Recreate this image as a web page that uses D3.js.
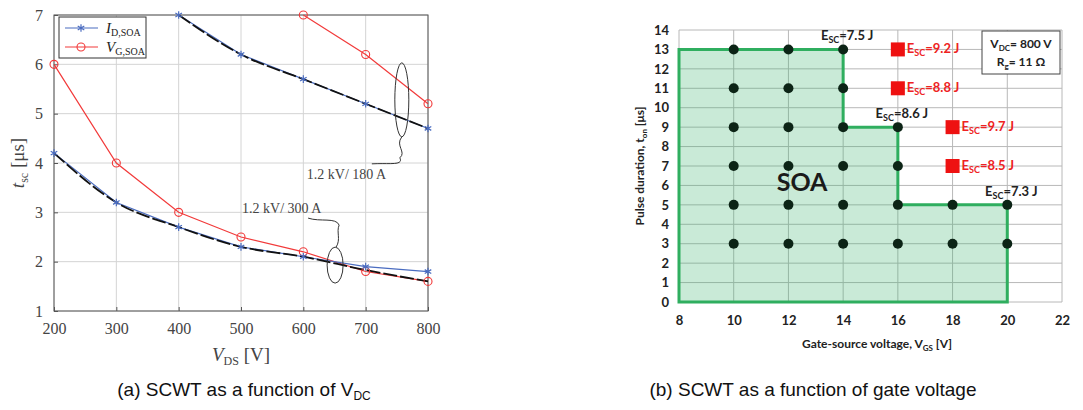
<!DOCTYPE html>
<html>
<head>
<meta charset="utf-8">
<script src="https://cdn.jsdelivr.net/npm/d3@7"></script>
<style>
    body { margin: 0; background: #fff; }
    svg { display: block; }
</style>
</head>
<body>
<svg id="chart" width="1083" height="410"></svg>
<script>
// ---- data: (a) SCWT vs V_DC ----
const vds = [200, 300, 400, 500, 600, 700, 800];
const id300 = [4.2, 3.2, 2.7, 2.3, 2.1, 1.9, 1.8];
const vg300 = [6.0, 4.0, 3.0, 2.5, 2.2, 1.8, 1.6];
const fit300 = [4.2, 3.2, 2.7, 2.3, 2.1, 1.83, 1.6];
const vds180 = [400, 500, 600, 700, 800];
const id180 = [7.0, 6.2, 5.7, 5.2, 4.7];
const vdsVg180 = [600, 700, 800];
const vg180 = [7.0, 6.2, 5.2];
const xTicksA = [200, 300, 400, 500, 600, 700, 800];
const yTicksA = [1, 2, 3, 4, 5, 6, 7];

// ---- data: (b) SCWT vs gate voltage ----
const soaX = [8, 8, 14, 14, 16, 16, 20, 20];
const soaY = [0, 13, 13, 9, 9, 5, 5, 0];
const passX = [10, 10, 10, 10, 10, 10, 12, 12, 12, 12, 12, 12, 14, 14, 14, 14, 14, 14, 16, 16, 16, 16, 18, 18, 20, 20];
const passY = [3, 5, 7, 9, 11, 13, 3, 5, 7, 9, 11, 13, 3, 5, 7, 9, 11, 13, 3, 5, 7, 9, 3, 5, 3, 5];
const failX = [16, 16, 18, 18];
const failY = [13, 11, 9, 7];
const failE = ["9.2", "8.8", "9.7", "8.5"];
const passLabX = [14, 16, 20];
const passLabY = [13, 9, 5];
const passLabE = ["7.5", "8.6", "7.3"];
const xTicksB = [8, 10, 12, 14, 16, 18, 20, 22];
const yTicksB = d3.range(0, 15);

const svg = d3.select("#chart");

// ================= (a) =================
const serif = "'Liberation Serif', 'DejaVu Serif', serif";
const xA = d3.scaleLinear().domain([200, 800]).range([54, 428]);
const yA = d3.scaleLinear().domain([1, 7]).range([311, 15]);
const gA = svg.append("g");

// grid
gA.selectAll("line.v").data(xTicksA).enter().append("line")
  .attr("x1", d => xA(d)).attr("x2", d => xA(d))
  .attr("y1", yA(1)).attr("y2", yA(7))
  .attr("stroke", "#d4d4d4").attr("stroke-width", 1);
gA.selectAll("line.h").data(yTicksA).enter().append("line")
  .attr("x1", xA(200)).attr("x2", xA(800))
  .attr("y1", d => yA(d)).attr("y2", d => yA(d))
  .attr("stroke", "#d4d4d4").attr("stroke-width", 1);

// axes
const axA = gA.append("g").attr("transform", `translate(0,${yA(1)})`)
  .call(d3.axisBottom(xA).tickValues(xTicksA).tickSize(-4).tickPadding(12));
const ayA = gA.append("g").attr("transform", `translate(${xA(200)},0)`)
  .call(d3.axisLeft(yA).tickValues(yTicksA).tickFormat(d3.format("d")).tickSize(-4).tickPadding(11));
[axA, ayA].forEach(a => {
    a.select(".domain").remove();
    a.selectAll(".tick line").attr("stroke", "#555");
    a.selectAll("text").attr("font-family", serif).attr("font-size", 16).attr("fill", "#444");
});
gA.append("rect")
  .attr("x", xA(200)).attr("y", yA(7))
  .attr("width", xA(800) - xA(200)).attr("height", yA(1) - yA(7))
  .attr("fill", "none").attr("stroke", "#555").attr("stroke-width", 1);

const lineA = d3.line().x(d => xA(d[0])).y(d => yA(d[1]));
const curveA = d3.line().x(d => xA(d[0])).y(d => yA(d[1])).curve(d3.curveMonotoneX);

function drawSeries(xs, ys, color) {
    const pts = xs.map((x, i) => [x, ys[i]]);
    gA.append("path").datum(pts).attr("d", lineA)
      .attr("fill", "none").attr("stroke", color).attr("stroke-width", 1.2);
    return pts;
}
function drawMarkers(pts, color, marker) {
    if (marker === "circle") {
        gA.selectAll(null).data(pts).enter().append("circle")
          .attr("cx", d => xA(d[0])).attr("cy", d => yA(d[1])).attr("r", 4)
          .attr("fill", "none").attr("stroke", color).attr("stroke-width", 1.1);
    } else {
        gA.selectAll(null).data(pts).enter().append("path")
          .attr("transform", d => `translate(${xA(d[0])},${yA(d[1])})`)
          .attr("d", d3.symbol(d3.symbolAsterisk, 40))
          .attr("fill", "none").attr("stroke", color).attr("stroke-width", 1.2);
    }
}

const blue = "#4a6cc0";
const red = "#f23a3a";
const pVg300 = drawSeries(vds, vg300, red);
const pVg180 = drawSeries(vdsVg180, vg180, red);
const pId300 = drawSeries(vds, id300, blue);
const pId180 = drawSeries(vds180, id180, blue);

// fitted black dashed curves
gA.append("path").datum(vds.map((x, i) => [x, fit300[i]]))
  .attr("d", curveA)
  .attr("fill", "none").attr("stroke", "#111").attr("stroke-width", 1.8)
  .attr("stroke-dasharray", "14,3");
gA.append("path").datum(vds180.map((x, i) => [x, id180[i]]))
  .attr("d", curveA)
  .attr("fill", "none").attr("stroke", "#111").attr("stroke-width", 1.8)
  .attr("stroke-dasharray", "14,3");

drawMarkers(pVg300, red, "circle");
drawMarkers(pVg180, red, "circle");
drawMarkers(pId300, blue, "star");
drawMarkers(pId180, blue, "star");

// annotations
const e1x = xA(758), e1y = yA(5.28);
gA.append("ellipse").attr("cx", e1x).attr("cy", e1y)
  .attr("rx", 7).attr("ry", 37)
  .attr("fill", "none").attr("stroke", "#333").attr("stroke-width", 1);
gA.append("path")
  .attr("d", `M${e1x},${e1y + 37} C${e1x - 7},${e1y + 46} ${e1x + 5},${e1y + 52} ${e1x - 2},${e1y + 58} C${e1x + 2},${e1y + 66} ${e1x - 12},${e1y + 63} ${e1x - 30},${e1y + 64}`)
  .attr("fill", "none").attr("stroke", "#333").attr("stroke-width", 1);
gA.append("text").attr("x", e1x - 95).attr("y", e1y + 79)
  .attr("font-family", serif).attr("font-size", 14).attr("fill", "#444")
  .text("1.2 kV/ 180 A");

const e2x = xA(651), e2y = yA(1.93);
gA.append("ellipse").attr("cx", e2x).attr("cy", e2y)
  .attr("rx", 8).attr("ry", 18)
  .attr("fill", "none").attr("stroke", "#333").attr("stroke-width", 1);
gA.append("path")
  .attr("d", `M${e2x + 1},${e2y - 18} C${e2x + 6},${e2y - 26} ${e2x + 1},${e2y - 33} ${e2x + 4},${e2y - 40} C${e2x + 1},${e2y - 48} ${e2x - 15},${e2y - 43} ${e2x - 27},${e2y - 47}`)
  .attr("fill", "none").attr("stroke", "#333").attr("stroke-width", 1);
gA.append("text").attr("x", e2x - 93).attr("y", e2y - 52)
  .attr("font-family", serif).attr("font-size", 14).attr("fill", "#444")
  .text("1.2 kV/ 300 A");

// legend
const legA = gA.append("g");
legA.append("rect").attr("x", 59).attr("y", 17).attr("width", 87).attr("height", 41)
  .attr("fill", "#fff").attr("stroke", "#333").attr("stroke-width", 1);
const legItems = [
    { name: "I", sub: "D,SOA", color: blue, marker: "star", y: 28 },
    { name: "V", sub: "G,SOA", color: red, marker: "circle", y: 47 }
];
legItems.forEach(it => {
    legA.append("line").attr("x1", 65).attr("x2", 98).attr("y1", it.y).attr("y2", it.y)
      .attr("stroke", it.color).attr("stroke-width", 1.2);
    if (it.marker === "circle") {
        legA.append("circle").attr("cx", 81).attr("cy", it.y).attr("r", 4)
          .attr("fill", "none").attr("stroke", it.color).attr("stroke-width", 1.1);
    } else {
        legA.append("path").attr("transform", `translate(81,${it.y})`)
          .attr("d", d3.symbol(d3.symbolAsterisk, 40))
          .attr("fill", "none").attr("stroke", it.color).attr("stroke-width", 1.2);
    }
    const t = legA.append("text").attr("x", 106).attr("y", it.y + 5)
      .attr("font-family", serif).attr("font-size", 15).attr("fill", "#222");
    t.append("tspan").attr("font-style", "italic").text(it.name);
    t.append("tspan").attr("font-size", 10).attr("dy", 3).text(it.sub);
});

// axis titles
const xtA = gA.append("text").attr("x", 241).attr("y", 361).attr("text-anchor", "middle")
  .attr("font-family", serif).attr("font-size", 19).attr("fill", "#444");
xtA.append("tspan").attr("font-style", "italic").text("V");
xtA.append("tspan").attr("font-size", 12).attr("dy", 4).text("DS");
xtA.append("tspan").attr("dy", -4).text(" [V]");

const ytA = gA.append("text").attr("transform", "translate(24,163) rotate(-90)")
  .attr("text-anchor", "middle")
  .attr("font-family", serif).attr("font-size", 19).attr("fill", "#444");
ytA.append("tspan").attr("font-style", "italic").text("t");
ytA.append("tspan").attr("font-size", 12).attr("dy", 4).text("sc");
ytA.append("tspan").attr("dy", -4).text(" [μs]");

// caption
const capA = svg.append("text").attr("x", 244).attr("y", 396).attr("text-anchor", "middle")
  .attr("font-family", "'Liberation Sans', Arial, sans-serif").attr("font-size", 19).attr("fill", "#111");
capA.append("tspan").text("(a) SCWT as a function of V");
capA.append("tspan").attr("font-size", 12).attr("dy", 4).text("DC");

// ================= (b) =================
const sans = "Lato, 'Open Sans', sans-serif";
const xB = d3.scaleLinear().domain([8, 22]).range([679, 1062]);
const yB = d3.scaleLinear().domain([0, 14]).range([302, 30]);
const gB = svg.append("g");

gB.selectAll("line.v").data(xTicksB).enter().append("line")
  .attr("x1", d => xB(d)).attr("x2", d => xB(d))
  .attr("y1", yB(0)).attr("y2", yB(14))
  .attr("stroke", "#b8b8b8").attr("stroke-width", 1);
gB.selectAll("line.h").data(yTicksB).enter().append("line")
  .attr("x1", xB(8)).attr("x2", xB(22))
  .attr("y1", d => yB(d)).attr("y2", d => yB(d))
  .attr("stroke", "#b8b8b8").attr("stroke-width", 1);

const axB = gB.append("g").attr("transform", `translate(0,${yB(0)})`)
  .call(d3.axisBottom(xB).tickValues(xTicksB).tickSize(0).tickPadding(14));
const ayB = gB.append("g").attr("transform", `translate(${xB(8)},0)`)
  .call(d3.axisLeft(yB).tickValues(yTicksB).tickSize(0).tickPadding(10));
[axB, ayB].forEach(a => {
    a.select(".domain").remove();
    a.selectAll("text").attr("font-family", sans).attr("font-size", 13)
      .attr("font-weight", "bold").attr("fill", "#222");
});

// SOA region
const soaPts = soaX.map((x, i) => [xB(x), yB(soaY[i])]);
gB.append("path").attr("d", d3.line()(soaPts) + "Z")
  .attr("fill", "rgba(60,180,110,0.28)")
  .attr("stroke", "#2fae5f").attr("stroke-width", 3).attr("stroke-linejoin", "miter");

gB.append("text").attr("x", xB(12.5)).attr("y", yB(5.7)).attr("text-anchor", "middle")
  .attr("font-family", sans).attr("font-size", 25).attr("font-weight", "bold").attr("fill", "#1a1a1a")
  .text("SOA");

// passing points
gB.selectAll("circle.pass").data(passX.map((x, i) => [x, passY[i]])).enter().append("circle")
  .attr("cx", d => xB(d[0])).attr("cy", d => yB(d[1])).attr("r", 5)
  .attr("fill", "#0c2416");

// failing points
gB.selectAll("rect.fail").data(failX.map((x, i) => [x, failY[i]])).enter().append("rect")
  .attr("x", d => xB(d[0]) - 7).attr("y", d => yB(d[1]) - 7)
  .attr("width", 14).attr("height", 14).attr("fill", "#ee1111");

function esc(g, x, y, val, color, anchor) {
    const t = g.append("text").attr("x", x).attr("y", y).attr("text-anchor", anchor || "start")
      .attr("font-family", sans).attr("font-size", 13).attr("font-weight", "bold").attr("fill", color);
    t.append("tspan").text("E");
    t.append("tspan").attr("font-size", 9).attr("dy", 3).text("SC");
    t.append("tspan").attr("dy", -3).text("=" + val + " J");
}
failX.forEach((x, i) => esc(gB, xB(x) + 9, yB(failY[i]) + 4, failE[i], "#ee2222"));
passLabX.forEach((x, i) => esc(gB, xB(x) + 4, yB(passLabY[i]) - 9, passLabE[i], "#222", "middle"));

// info box
gB.append("rect").attr("x", 982).attr("y", 31).attr("width", 78).attr("height", 43)
  .attr("fill", "#fff").attr("stroke", "#444").attr("stroke-width", 1);
const ib1 = gB.append("text").attr("x", 1021).attr("y", 48).attr("text-anchor", "middle")
  .attr("font-family", sans).attr("font-size", 12).attr("font-weight", "bold").attr("fill", "#222");
ib1.append("tspan").text("V");
ib1.append("tspan").attr("font-size", 8).attr("dy", 3).text("DC");
ib1.append("tspan").attr("dy", -3).text("= 800 V");
const ib2 = gB.append("text").attr("x", 1021).attr("y", 66).attr("text-anchor", "middle")
  .attr("font-family", sans).attr("font-size", 12).attr("font-weight", "bold").attr("fill", "#222");
ib2.append("tspan").text("R");
ib2.append("tspan").attr("font-size", 8).attr("dy", 3).text("g");
ib2.append("tspan").attr("dy", -3).text("= 11 Ω");

// axis titles
const xtB = gB.append("text").attr("x", 877).attr("y", 348).attr("text-anchor", "middle")
  .attr("font-family", sans).attr("font-size", 12).attr("font-weight", "bold").attr("fill", "#222");
xtB.append("tspan").text("Gate-source voltage, V");
xtB.append("tspan").attr("font-size", 8).attr("dy", 3).text("GS");
xtB.append("tspan").attr("dy", -3).text(" [V]");

const ytB = gB.append("text").attr("transform", "translate(644,166) rotate(-90)")
  .attr("text-anchor", "middle")
  .attr("font-family", sans).attr("font-size", 12).attr("font-weight", "bold").attr("fill", "#222");
ytB.append("tspan").text("Pulse duration, t");
ytB.append("tspan").attr("font-size", 8).attr("dy", 3).text("on");
ytB.append("tspan").attr("dy", -3).text(" [μs]");

// caption
svg.append("text").attr("x", 813).attr("y", 396).attr("text-anchor", "middle")
  .attr("font-family", "'Liberation Sans', Arial, sans-serif").attr("font-size", 19).attr("fill", "#111")
  .text("(b) SCWT as a function of gate voltage");
</script>
</body>
</html>
